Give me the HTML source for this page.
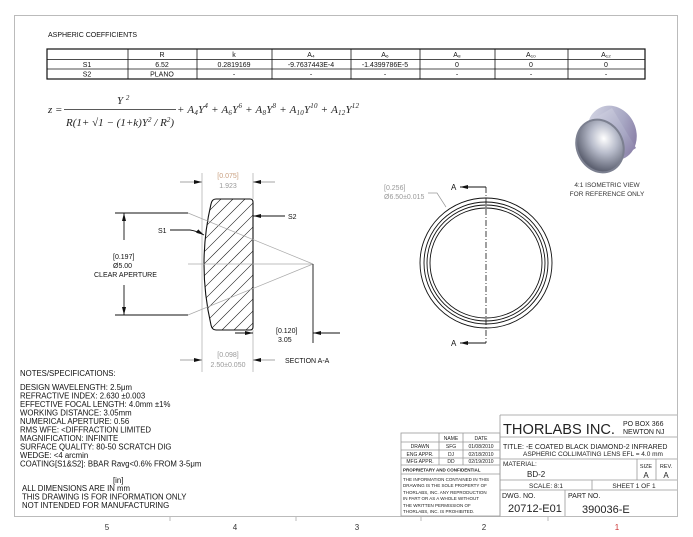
<!DOCTYPE html>
<html><head><meta charset="utf-8"><style>
html,body{margin:0;padding:0;background:#fff}
svg{display:block}
text{font-family:"Liberation Sans",sans-serif}
.s{font-size:7px;fill:#111}
.f{font-family:"Liberation Serif",serif;font-style:italic;font-size:11px;fill:#222}
</style></head><body>
<svg width="693" height="537" viewBox="0 0 693 537" xmlns="http://www.w3.org/2000/svg">
<defs>
<marker id="ar" markerWidth="8" markerHeight="6" refX="8" refY="3" orient="auto" markerUnits="userSpaceOnUse"><path d="M0,1 L8,3 L0,5z" fill="#111"/></marker>
<radialGradient id="lg" cx="0.65" cy="0.4" r="0.65"><stop offset="0" stop-color="#fff"/><stop offset="0.45" stop-color="#b8bccb"/><stop offset="1" stop-color="#5e6272"/></radialGradient>
<linearGradient id="rim" x1="0" y1="0" x2="1" y2="1"><stop offset="0" stop-color="#dcdeea"/><stop offset="0.6" stop-color="#a8a8c4"/><stop offset="1" stop-color="#7a6a98"/></linearGradient>
</defs>
<rect x="14.5" y="15.5" width="663" height="501" fill="none" stroke="#bbb" stroke-width="1"/>
<g stroke="#bbb"><line x1="170" y1="516" x2="170" y2="521"/><line x1="296" y1="516" x2="296" y2="521"/><line x1="421" y1="516" x2="421" y2="521"/><line x1="548" y1="516" x2="548" y2="521"/></g>
<g font-size="8" text-anchor="middle" fill="#333"><text x="107" y="530">5</text><text x="235" y="530">4</text><text x="357" y="530">3</text><text x="484" y="530">2</text><text x="617" y="530" fill="#c33">1</text></g>

<text x="48" y="37" class="s">ASPHERIC COEFFICIENTS</text>
<g stroke="#111" fill="none">
<rect x="47" y="49" width="598" height="30" stroke-width="1.2"/>
<line x1="47" y1="59.5" x2="645" y2="59.5" stroke-width="0.8"/>
<line x1="47" y1="69" x2="645" y2="69" stroke-width="0.8"/>
<g stroke-width="0.8"><line x1="128" y1="49" x2="128" y2="79"/><line x1="197" y1="49" x2="197" y2="79"/><line x1="272" y1="49" x2="272" y2="79"/><line x1="351" y1="49" x2="351" y2="79"/><line x1="420" y1="49" x2="420" y2="79"/><line x1="495" y1="49" x2="495" y2="79"/><line x1="568" y1="49" x2="568" y2="79"/></g>
</g>
<g class="s" text-anchor="middle">
<text x="162" y="57">R</text><text x="234" y="57">k</text><text x="311" y="57">A₄</text><text x="385" y="57">A₆</text><text x="457" y="57">A₈</text><text x="531" y="57">A₁₀</text><text x="606" y="57">A₁₂</text>
<text x="87" y="67">S1</text><text x="162" y="67">6.52</text><text x="234" y="67">0.2819169</text><text x="311" y="67">-9.7637443E-4</text><text x="385" y="67">-1.4399786E-5</text><text x="457" y="67">0</text><text x="531" y="67">0</text><text x="606" y="67">0</text>
<text x="87" y="76.5">S2</text><text x="162" y="76.5">PLANO</text><text x="234" y="76.5">-</text><text x="311" y="76.5">-</text><text x="385" y="76.5">-</text><text x="457" y="76.5">-</text><text x="531" y="76.5">-</text><text x="606" y="76.5">-</text>
</g>
<text x="48" y="113" class="f">z =</text>
<text x="117" y="104" class="f">Y <tspan font-size="7" dy="-4">2</tspan></text>
<line x1="64" y1="109.5" x2="176" y2="109.5" stroke="#222" stroke-width="0.7"/>
<text x="66" y="126" class="f" textLength="108">R(1+ <tspan>√</tspan>1 − (1+k)Y<tspan font-size="7" dy="-4">2</tspan><tspan dy="4"> / R</tspan><tspan font-size="7" dy="-4">2</tspan><tspan dy="4">)</tspan></text>
<text x="177" y="113" class="f" textLength="182">+ A<tspan font-size="7" dy="2">4</tspan><tspan dy="-2">Y</tspan><tspan font-size="7" dy="-5">4</tspan><tspan dy="5"> + A</tspan><tspan font-size="7" dy="2">6</tspan><tspan dy="-2">Y</tspan><tspan font-size="7" dy="-5">6</tspan><tspan dy="5"> + A</tspan><tspan font-size="7" dy="2">8</tspan><tspan dy="-2">Y</tspan><tspan font-size="7" dy="-5">8</tspan><tspan dy="5"> + A</tspan><tspan font-size="7" dy="2">10</tspan><tspan dy="-2">Y</tspan><tspan font-size="7" dy="-5">10</tspan><tspan dy="5"> + A</tspan><tspan font-size="7" dy="2">12</tspan><tspan dy="-2">Y</tspan><tspan font-size="7" dy="-5">12</tspan></text>

<!-- isometric lens -->
<g>
<ellipse cx="612" cy="133" rx="24" ry="28" transform="rotate(-25 612 133)" fill="url(#rim)"/>
<path d="M583,125 L612,108 L636,148 L605,168 Z" fill="url(#rim)"/>
<ellipse cx="600" cy="146" rx="24" ry="28" transform="rotate(-25 600 146)" fill="#7c8090"/>
<ellipse cx="600" cy="146" rx="22" ry="26" transform="rotate(-25 600 146)" fill="url(#lg)"/>
</g>
<g font-size="6.5" fill="#333" text-anchor="middle"><text x="607" y="187">4:1 ISOMETRIC VIEW</text><text x="607" y="196">FOR REFERENCE ONLY</text></g>

<g fill="none" stroke="#111" stroke-width="0.9">
<ellipse cx="486" cy="263" rx="66" ry="65"/>
<ellipse cx="486" cy="263" rx="62" ry="61"/>
<ellipse cx="486" cy="263" rx="59" ry="58"/>
<ellipse cx="486" cy="263" rx="56" ry="55"/>
</g>
<line x1="486" y1="187" x2="486" y2="343" stroke="#111" stroke-width="0.8" stroke-dasharray="6,2,1,2"/>
<line x1="486" y1="187" x2="460" y2="187" stroke="#111" stroke-width="0.9" marker-end="url(#ar)"/>
<line x1="486" y1="343" x2="460" y2="343" stroke="#111" stroke-width="0.9" marker-end="url(#ar)"/>
<text x="451" y="190" font-size="8" fill="#111">A</text>
<text x="451" y="346" font-size="8" fill="#111">A</text>
<g class="s"><text x="384" y="190" fill="#999">[0.256]</text><text x="384" y="199" fill="#999">Ø6.50±0.015</text></g>
<path d="M428,193 L437,193 L446,207" fill="none" stroke="#999" stroke-width="0.7"/>

<defs><clipPath id="lc"><path d="M216,199 L250,199 Q253,199 253,202 L253,327 Q253,330 250,330 L216,330 Q212,330 211,325 Q197,264 211,204 Q212,199 216,199Z"/></clipPath></defs>
<g clip-path="url(#lc)" stroke="#111" stroke-width="0.6">
<line x1="180" y1="240" x2="260" y2="160"/><line x1="180" y1="252" x2="260" y2="172"/><line x1="180" y1="264" x2="260" y2="184"/><line x1="180" y1="276" x2="260" y2="196"/><line x1="180" y1="288" x2="260" y2="208"/><line x1="180" y1="300" x2="260" y2="220"/><line x1="180" y1="312" x2="260" y2="232"/><line x1="180" y1="324" x2="260" y2="244"/><line x1="180" y1="336" x2="260" y2="256"/><line x1="180" y1="348" x2="260" y2="268"/><line x1="180" y1="360" x2="260" y2="280"/><line x1="180" y1="372" x2="260" y2="292"/><line x1="180" y1="384" x2="260" y2="304"/><line x1="180" y1="396" x2="260" y2="316"/><line x1="180" y1="408" x2="260" y2="328"/><line x1="180" y1="420" x2="260" y2="340"/>
</g>
<path d="M216,199 L250,199 Q253,199 253,202 L253,327 Q253,330 250,330 L216,330 Q212,330 211,325 Q197,264 211,204 Q212,199 216,199Z" fill="none" stroke="#111" stroke-width="1.1"/>
<g stroke="#aaa" stroke-width="0.7" fill="none">
<line x1="202" y1="173" x2="202" y2="372"/><line x1="253" y1="173" x2="253" y2="199"/><line x1="253" y1="330" x2="253" y2="372"/>
<line x1="188" y1="213" x2="313" y2="264"/><line x1="188" y1="315" x2="313" y2="264"/><line x1="188" y1="264" x2="313" y2="264"/>
</g>
<g stroke="#888" stroke-width="0.8">
<line x1="180" y1="182" x2="202" y2="182" marker-end="url(#ar)"/><line x1="275" y1="182" x2="253" y2="182" marker-end="url(#ar)"/>
<line x1="180" y1="360" x2="202" y2="360" marker-end="url(#ar)"/><line x1="275" y1="360" x2="253" y2="360" marker-end="url(#ar)"/>
</g>
<g class="s" text-anchor="middle"><text x="228" y="178" fill="#c9a080">[0.075]</text><text x="228" y="188" fill="#999">1.923</text>
<text x="228" y="357" fill="#999">[0.098]</text><text x="228" y="367" fill="#999">2.50±0.050</text></g>
<g stroke="#111" stroke-width="0.9" fill="none">
<line x1="115" y1="213" x2="188" y2="213"/><line x1="115" y1="315" x2="188" y2="315"/>
<line x1="124" y1="240" x2="124" y2="213" marker-end="url(#ar)"/><line x1="124" y1="285" x2="124" y2="315" marker-end="url(#ar)"/>
<line x1="313" y1="264" x2="313" y2="343"/>
<line x1="340" y1="333" x2="313" y2="333" marker-end="url(#ar)"/>
<line x1="235" y1="333" x2="253" y2="333" marker-end="url(#ar)"/>
<line x1="285" y1="216" x2="253" y2="216" marker-end="url(#ar)"/>
<path d="M170,230 L190,230 Q197,231 204,235" marker-end="url(#ar)"/>
</g>
<g class="s"><text x="113" y="259">[0.197]</text><text x="113" y="268">Ø5.00</text><text x="94" y="277">CLEAR APERTURE</text>
<text x="288" y="219">S2</text><text x="158" y="233">S1</text>
<text x="276" y="333">[0.120]</text><text x="278" y="342">3.05</text>
<text x="285" y="363">SECTION A-A</text></g>

<g font-size="7.8" fill="#111">
<text x="20" y="376">NOTES/SPECIFICATIONS:</text>
<text x="20" y="390">DESIGN WAVELENGTH: 2.5μm</text>
<text x="20" y="398.5">REFRACTIVE INDEX: 2.630 ±0.003</text>
<text x="20" y="407">EFFECTIVE FOCAL LENGTH: 4.0mm ±1%</text>
<text x="20" y="415.5">WORKING DISTANCE: 3.05mm</text>
<text x="20" y="424">NUMERICAL APERTURE: 0.56</text>
<text x="20" y="432.5">RMS WFE: &lt;DIFFRACTION LIMITED</text>
<text x="20" y="441">MAGNIFICATION: INFINITE</text>
<text x="20" y="449.5">SURFACE QUALITY: 80-50 SCRATCH DIG</text>
<text x="20" y="458">WEDGE: &lt;4 arcmin</text>
<text x="20" y="466.5">COATING[S1&amp;S2]: BBAR Ravg&lt;0.6% FROM 3-5μm</text>
<text x="113" y="483">[in]</text>
<text x="22" y="491">ALL DIMENSIONS ARE IN mm</text>
<text x="22" y="499.5">THIS DRAWING IS FOR INFORMATION ONLY</text>
<text x="22" y="508">NOT INTENDED FOR MANUFACTURING</text>
</g>

<g fill="none" stroke="#999" stroke-width="0.8">
<line x1="500" y1="415" x2="677" y2="415"/>
<line x1="500" y1="415" x2="500" y2="516"/>
<line x1="500" y1="437" x2="677" y2="437"/>
<line x1="500" y1="459" x2="677" y2="459"/>
<line x1="500" y1="480" x2="677" y2="480"/>
<line x1="500" y1="490" x2="677" y2="490"/>
<line x1="637" y1="459" x2="637" y2="480"/><line x1="656" y1="459" x2="656" y2="480"/>
<line x1="592" y1="480" x2="592" y2="490"/>
<line x1="565" y1="490" x2="565" y2="516"/>
<rect x="401" y="433" width="99" height="83"/>
<line x1="401" y1="442" x2="500" y2="442"/><line x1="401" y1="450" x2="500" y2="450"/><line x1="401" y1="458" x2="500" y2="458"/><line x1="401" y1="465" x2="500" y2="465"/><line x1="401" y1="474" x2="500" y2="474"/>
<line x1="439" y1="433" x2="439" y2="465"/><line x1="463" y1="433" x2="463" y2="465"/>
</g>
<g font-size="5" fill="#222" text-anchor="middle">
<text x="451" y="440">NAME</text><text x="481" y="440">DATE</text>
<text x="420" y="448">DRAWN</text><text x="451" y="448">SFG</text><text x="481" y="448">01/08/2010</text>
<text x="420" y="456">ENG APPR.</text><text x="451" y="456">DJ</text><text x="481" y="456">02/18/2010</text>
<text x="420" y="463">MFG APPR.</text><text x="451" y="463">DD</text><text x="481" y="463">02/19/2010</text>
</g>
<g font-size="4.5" fill="#222">
<text x="403" y="471.5" font-weight="bold">PROPRIETARY AND CONFIDENTIAL</text>
<text x="403" y="481">THE INFORMATION CONTAINED IN THIS</text>
<text x="403" y="487">DRAWING IS THE SOLE PROPERTY OF</text>
<text x="403" y="494">THORLABS, INC.  ANY REPRODUCTION</text>
<text x="403" y="500">IN PART OR AS A WHOLE WITHOUT</text>
<text x="403" y="507">THE WRITTEN PERMISSION OF</text>
<text x="403" y="513">THORLABS, INC. IS PROHIBITED.</text>
</g>
<text x="503" y="434" font-size="15" fill="#222" textLength="112" lengthAdjust="spacingAndGlyphs">THORLABS INC.</text>
<text x="623" y="426" font-size="7" fill="#222">PO BOX 366</text>
<text x="623" y="434" font-size="7" fill="#222">NEWTON NJ</text>
<text x="503" y="449" font-size="7" fill="#222">TITLE:  -E COATED BLACK DIAMOND-2 INFRARED</text>
<text x="523" y="456" font-size="6.5" fill="#222">ASPHERIC COLLIMATING LENS    EFL = 4.0 mm</text>
<text x="503" y="466" font-size="6.5" fill="#222">MATERIAL:</text>
<text x="527" y="477" font-size="8" fill="#222">BD-2</text>
<text x="646" y="468" font-size="5.5" fill="#222" text-anchor="middle">SIZE</text><text x="666" y="468" font-size="5.5" fill="#222" text-anchor="middle">REV.</text>
<text x="646" y="478" font-size="8" fill="#222" text-anchor="middle">A</text><text x="666" y="478" font-size="8" fill="#222" text-anchor="middle">A</text>
<text x="546" y="488" font-size="6.5" fill="#222" text-anchor="middle">SCALE: 8:1</text>
<text x="634" y="488" font-size="6.5" fill="#222" text-anchor="middle">SHEET 1 OF 1</text>
<text x="502" y="498" font-size="7" fill="#222">DWG.  NO.</text>
<text x="568" y="498" font-size="7" fill="#222">PART  NO.</text>
<text x="508" y="512" font-size="11" fill="#222">20712-E01</text>
<text x="582" y="513" font-size="11" fill="#222">390036-E</text>
</svg>
</body></html>
